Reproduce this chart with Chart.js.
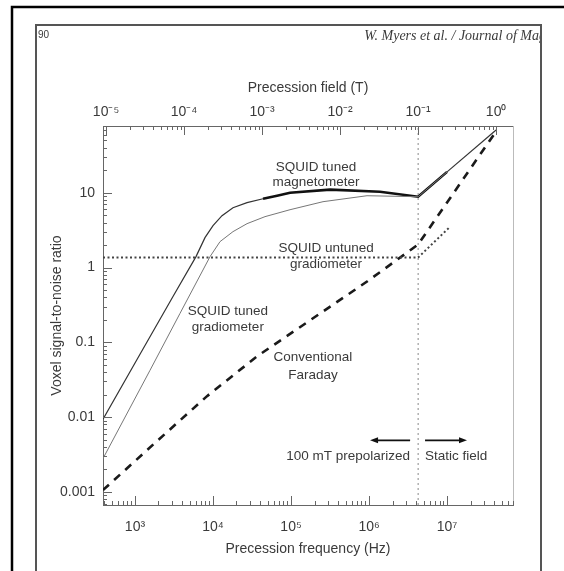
<!DOCTYPE html>
<html>
<head>
<meta charset="utf-8">
<script src="https://cdn.jsdelivr.net/npm/chart.js@4.4.0/dist/chart.umd.min.js"></script>
<style>
  html, body { margin: 0; padding: 0; background: #fff; }
</style>
</head>
<body>
<canvas id="myChart" width="564" height="571"></canvas>
<script>
// proton: precession frequency = GAMMA * field
const GAMMA = 42.577e6;

const freqMin = 389, freqMax = 7.0e7;
const snrMin = 0.00067, snrMax = 78;

const freqTicks = [1e3, 1e4, 1e5, 1e6, 1e7];
const fieldTicks = [1e-5, 1e-4, 1e-3, 1e-2, 1e-1, 1];
const snrTicks = [0.001, 0.01, 0.1, 1, 10];
const snrTickLabels = ['0.001', '0.01', '0.1', '1', '10'];

// SQUID tuned magnetometer
const magFreq = [389, 1159, 3069, 6053, 7889, 10000, 13040, 18030, 27290, 43750, 66220, 97100, 316000, 1.38e6, 4.25e6, 1.0e7, 4.25e7];
const magSnr  = [0.0094, 0.0692, 0.41, 1.40, 2.51, 3.63, 4.93, 6.31, 7.36, 8.32, 9.12, 10.0, 11.0, 10.3, 8.85, 19.0, 69];

// SQUID tuned gradiometer
const gradFreq = [389, 1557, 3776, 9160, 12300, 18030, 27290, 46400, 97100, 257000, 942000, 4.25e6, 1.0e7];
const gradSnr  = [0.0028, 0.0423, 0.244, 1.40, 2.22, 3.02, 3.86, 4.79, 5.93, 7.59, 9.12, 8.85, 19.0];

// SQUID untuned gradiometer
const untunedFreq = [389, 4.25e6, 1.09e7];
const untunedSnr  = [1.36, 1.36, 3.5];

// Conventional Faraday
const faradayFreq = [389, 1914, 8380, 36650, 160300, 942000, 4.25e6, 4.375e7];
const faradaySnr  = [0.00106, 0.00479, 0.0191, 0.065, 0.185, 0.65, 2.03, 69.2];

// 0.1 T boundary
const splitFreq = [0.1 * GAMMA, 0.1 * GAMMA];
const splitSnr  = [snrMin, snrMax];

// text notes inside the plot
const noteText  = ['SQUID tuned', 'magnetometer', 'SQUID untuned', 'gradiometer', 'SQUID tuned', 'gradiometer', 'Conventional', 'Faraday', '100 mT prepolarized', 'Static field'];
const noteFreq  = [2.09e5, 2.09e5, 2.81e5, 2.81e5, 1.55e4, 1.55e4, 1.91e5, 1.91e5, 3.36e6, 5.22e6];
const noteSnr   = [22.2, 13.6, 1.79, 1.1, 0.259, 0.158, 0.063, 0.0363, 0.003, 0.003];
const noteAlign = ['center', 'center', 'center', 'center', 'center', 'center', 'center', 'center', 'right', 'left'];

// arrows above the bottom notes
const arrowFrom = [3.36e6, 5.22e6];
const arrowTo   = [1.03e6, 1.8e7];
const arrowSnr  = 0.0049;

const FONT = '"Liberation Sans", Arial, sans-serif';
const TXT = '#3a3a3a';

const sup = { '-': '⁻', '0': '⁰', '1': '¹', '2': '²', '3': '³', '4': '⁴', '5': '⁵', '6': '⁶', '7': '⁷', '8': '⁸', '9': '⁹' };
function powLabel(v) {
  const e = String(Math.round(Math.log10(v)));
  return '10' + e.split('').map(ch => sup[ch]).join('');
}

function pts(xs, ys) {
  return xs.map((x, i) => ({ x: x, y: ys[i] }));
}

function logMarks(scale) {
  const out = [];
  const lo = Math.floor(Math.log10(scale.min)), hi = Math.ceil(Math.log10(scale.max));
  for (let e = lo; e <= hi; e++) {
    for (let m = 1; m <= 9; m++) {
      const v = m * Math.pow(10, e);
      if (v >= scale.min * 0.999 && v <= scale.max * 1.001) {
        out.push({ px: scale.getPixelForValue(v), major: m === 1 });
      }
    }
  }
  return out;
}

const paper = {
  id: 'paper',
  beforeDraw(chart) {
    const c = chart.ctx, W = chart.width, H = chart.height;
    c.save();
    c.fillStyle = '#fff';
    c.fillRect(0, 0, W, H);
    // page edge
    c.strokeStyle = '#000';
    c.lineWidth = 2.5;
    c.beginPath(); c.moveTo(12, H); c.lineTo(12, 7); c.lineTo(W, 7); c.stroke();
    // figure frame
    c.strokeStyle = '#555';
    c.lineWidth = 2;
    c.beginPath(); c.moveTo(36, H); c.lineTo(36, 25); c.lineTo(541, 25); c.lineTo(541, H); c.stroke();
    // running head
    c.fillStyle = TXT;
    c.textBaseline = 'middle';
    c.font = '10px ' + FONT;
    c.fillText('90', 38, 35);
    c.save();
    c.beginPath(); c.rect(37, 26, 503, 20); c.clip();
    c.font = 'italic 14px "Liberation Serif", serif';
    c.textAlign = 'right';
    c.fillText('W. Myers et al. / Journal of Mag', 546, 36);
    c.restore();
    c.restore();
  },
  afterDatasetsDraw(chart) {
    const c = chart.ctx, a = chart.chartArea;
    const sx = chart.scales.x, st = chart.scales.xTop, sy = chart.scales.y;
    c.save();
    // right edge of the box
    c.strokeStyle = '#bbb';
    c.lineWidth = 1;
    c.beginPath(); c.moveTo(a.right + 0.5, a.top); c.lineTo(a.right + 0.5, a.bottom); c.stroke();
    // inward tick marks
    c.strokeStyle = '#666';
    c.beginPath();
    logMarks(sx).forEach(t => { const p = Math.round(t.px) + 0.5; c.moveTo(p, a.bottom); c.lineTo(p, a.bottom - (t.major ? 9 : 4)); });
    logMarks(st).forEach(t => { const p = Math.round(t.px) + 0.5; c.moveTo(p, a.top); c.lineTo(p, a.top + (t.major ? 9 : 4)); });
    logMarks(sy).forEach(t => { const p = Math.round(t.px) + 0.5; c.moveTo(a.left, p); c.lineTo(a.left + (t.major ? 9 : 4), p); });
    c.stroke();
    // notes
    c.fillStyle = TXT;
    c.font = '13.5px ' + FONT;
    c.textBaseline = 'middle';
    noteText.forEach((t, i) => {
      c.textAlign = noteAlign[i];
      c.fillText(t, sx.getPixelForValue(noteFreq[i]), sy.getPixelForValue(noteSnr[i]));
    });
    // arrows
    c.strokeStyle = '#111';
    c.fillStyle = '#111';
    c.lineWidth = 1.6;
    const ay = sy.getPixelForValue(arrowSnr);
    arrowFrom.forEach((f, i) => {
      const x0 = sx.getPixelForValue(f), x1 = sx.getPixelForValue(arrowTo[i]);
      const d = x1 > x0 ? 1 : -1;
      c.beginPath(); c.moveTo(x0, ay); c.lineTo(x1 - d * 6, ay); c.stroke();
      c.beginPath(); c.moveTo(x1, ay); c.lineTo(x1 - d * 8, ay - 3); c.lineTo(x1 - d * 8, ay + 3); c.closePath(); c.fill();
    });
    c.restore();
  }
};

const lineBase = { pointRadius: 0, fill: false, tension: 0, showLine: true };

const config = {
  type: 'scatter',
  data: {
    datasets: [
      Object.assign({}, lineBase, {
        label: 'split', data: pts(splitFreq, splitSnr),
        borderColor: '#888', borderWidth: 1, borderDash: [2, 3]
      }),
      Object.assign({}, lineBase, {
        label: 'SQUID untuned gradiometer', data: pts(untunedFreq, untunedSnr),
        borderColor: '#444', borderWidth: 2, borderDash: [2, 2.5]
      }),
      Object.assign({}, lineBase, {
        label: 'Conventional Faraday', data: pts(faradayFreq, faradaySnr),
        borderColor: '#1a1a1a', borderWidth: 2.6, borderDash: [8, 7]
      }),
      Object.assign({}, lineBase, {
        label: 'SQUID tuned gradiometer', data: pts(gradFreq, gradSnr),
        borderColor: '#777', borderWidth: 1
      }),
      Object.assign({}, lineBase, {
        label: 'SQUID tuned magnetometer', data: pts(magFreq, magSnr),
        borderColor: '#333', borderWidth: 1.2,
        segment: {
          borderWidth: ctx => (ctx.p0.parsed.x >= 43000 && ctx.p1.parsed.x <= 1.01e7) ? 2.6 : 1.2,
          borderColor: ctx => (ctx.p0.parsed.x >= 43000 && ctx.p1.parsed.x <= 1.01e7) ? '#111' : '#333'
        }
      })
    ]
  },
  options: {
    responsive: false,
    animation: false,
    layout: { padding: { left: 0, right: 51, top: 0, bottom: 0 } },
    plugins: {
      legend: { display: false },
      tooltip: { enabled: false }
    },
    scales: {
      x: {
        type: 'logarithmic',
        position: 'bottom',
        min: freqMin, max: freqMax,
        afterBuildTicks: s => { s.ticks = freqTicks.map(v => ({ value: v })); },
        afterFit: s => { s.height = 66; },
        grid: { display: false, drawTicks: false },
        border: { display: true, color: '#666', width: 1 },
        ticks: {
          autoSkip: false, maxRotation: 0, padding: 14,
          color: TXT, font: { family: FONT, size: 14 },
          callback: v => powLabel(v)
        },
        title: {
          display: true, text: 'Precession frequency (Hz)',
          color: TXT, font: { family: FONT, size: 14 },
          padding: { top: 0, bottom: 13.5 }
        }
      },
      xTop: {
        type: 'logarithmic',
        position: 'top',
        min: freqMin / GAMMA, max: freqMax / GAMMA,
        afterBuildTicks: s => { s.ticks = fieldTicks.map(v => ({ value: v })); },
        afterFit: s => { s.height = 126; },
        grid: { display: false, drawTicks: false },
        border: { display: true, color: '#666', width: 1 },
        ticks: {
          autoSkip: false, maxRotation: 0, padding: 5,
          color: TXT, font: { family: FONT, size: 14 },
          callback: v => powLabel(v)
        },
        title: {
          display: true, text: 'Precession field (T)',
          color: TXT, font: { family: FONT, size: 14 },
          padding: { top: 79.5, bottom: 0 }
        }
      },
      y: {
        type: 'logarithmic',
        position: 'left',
        min: snrMin, max: snrMax,
        afterBuildTicks: s => { s.ticks = snrTicks.map(v => ({ value: v })); },
        afterFit: s => { s.width = 103; },
        grid: { display: false, drawTicks: false },
        border: { display: true, color: '#666', width: 1 },
        ticks: {
          autoSkip: false, padding: 8,
          color: TXT, font: { family: FONT, size: 14 },
          callback: (v, i) => snrTickLabels[i]
        },
        title: {
          display: true, text: 'Voxel signal-to-noise ratio',
          color: TXT, font: { family: FONT, size: 14 },
          padding: { top: 48.5, bottom: 0 }
        }
      }
    }
  },
  plugins: [paper]
};

const ctx = document.getElementById('myChart').getContext('2d');
const chart = new Chart(ctx, config);
</script>
</body>
</html>
